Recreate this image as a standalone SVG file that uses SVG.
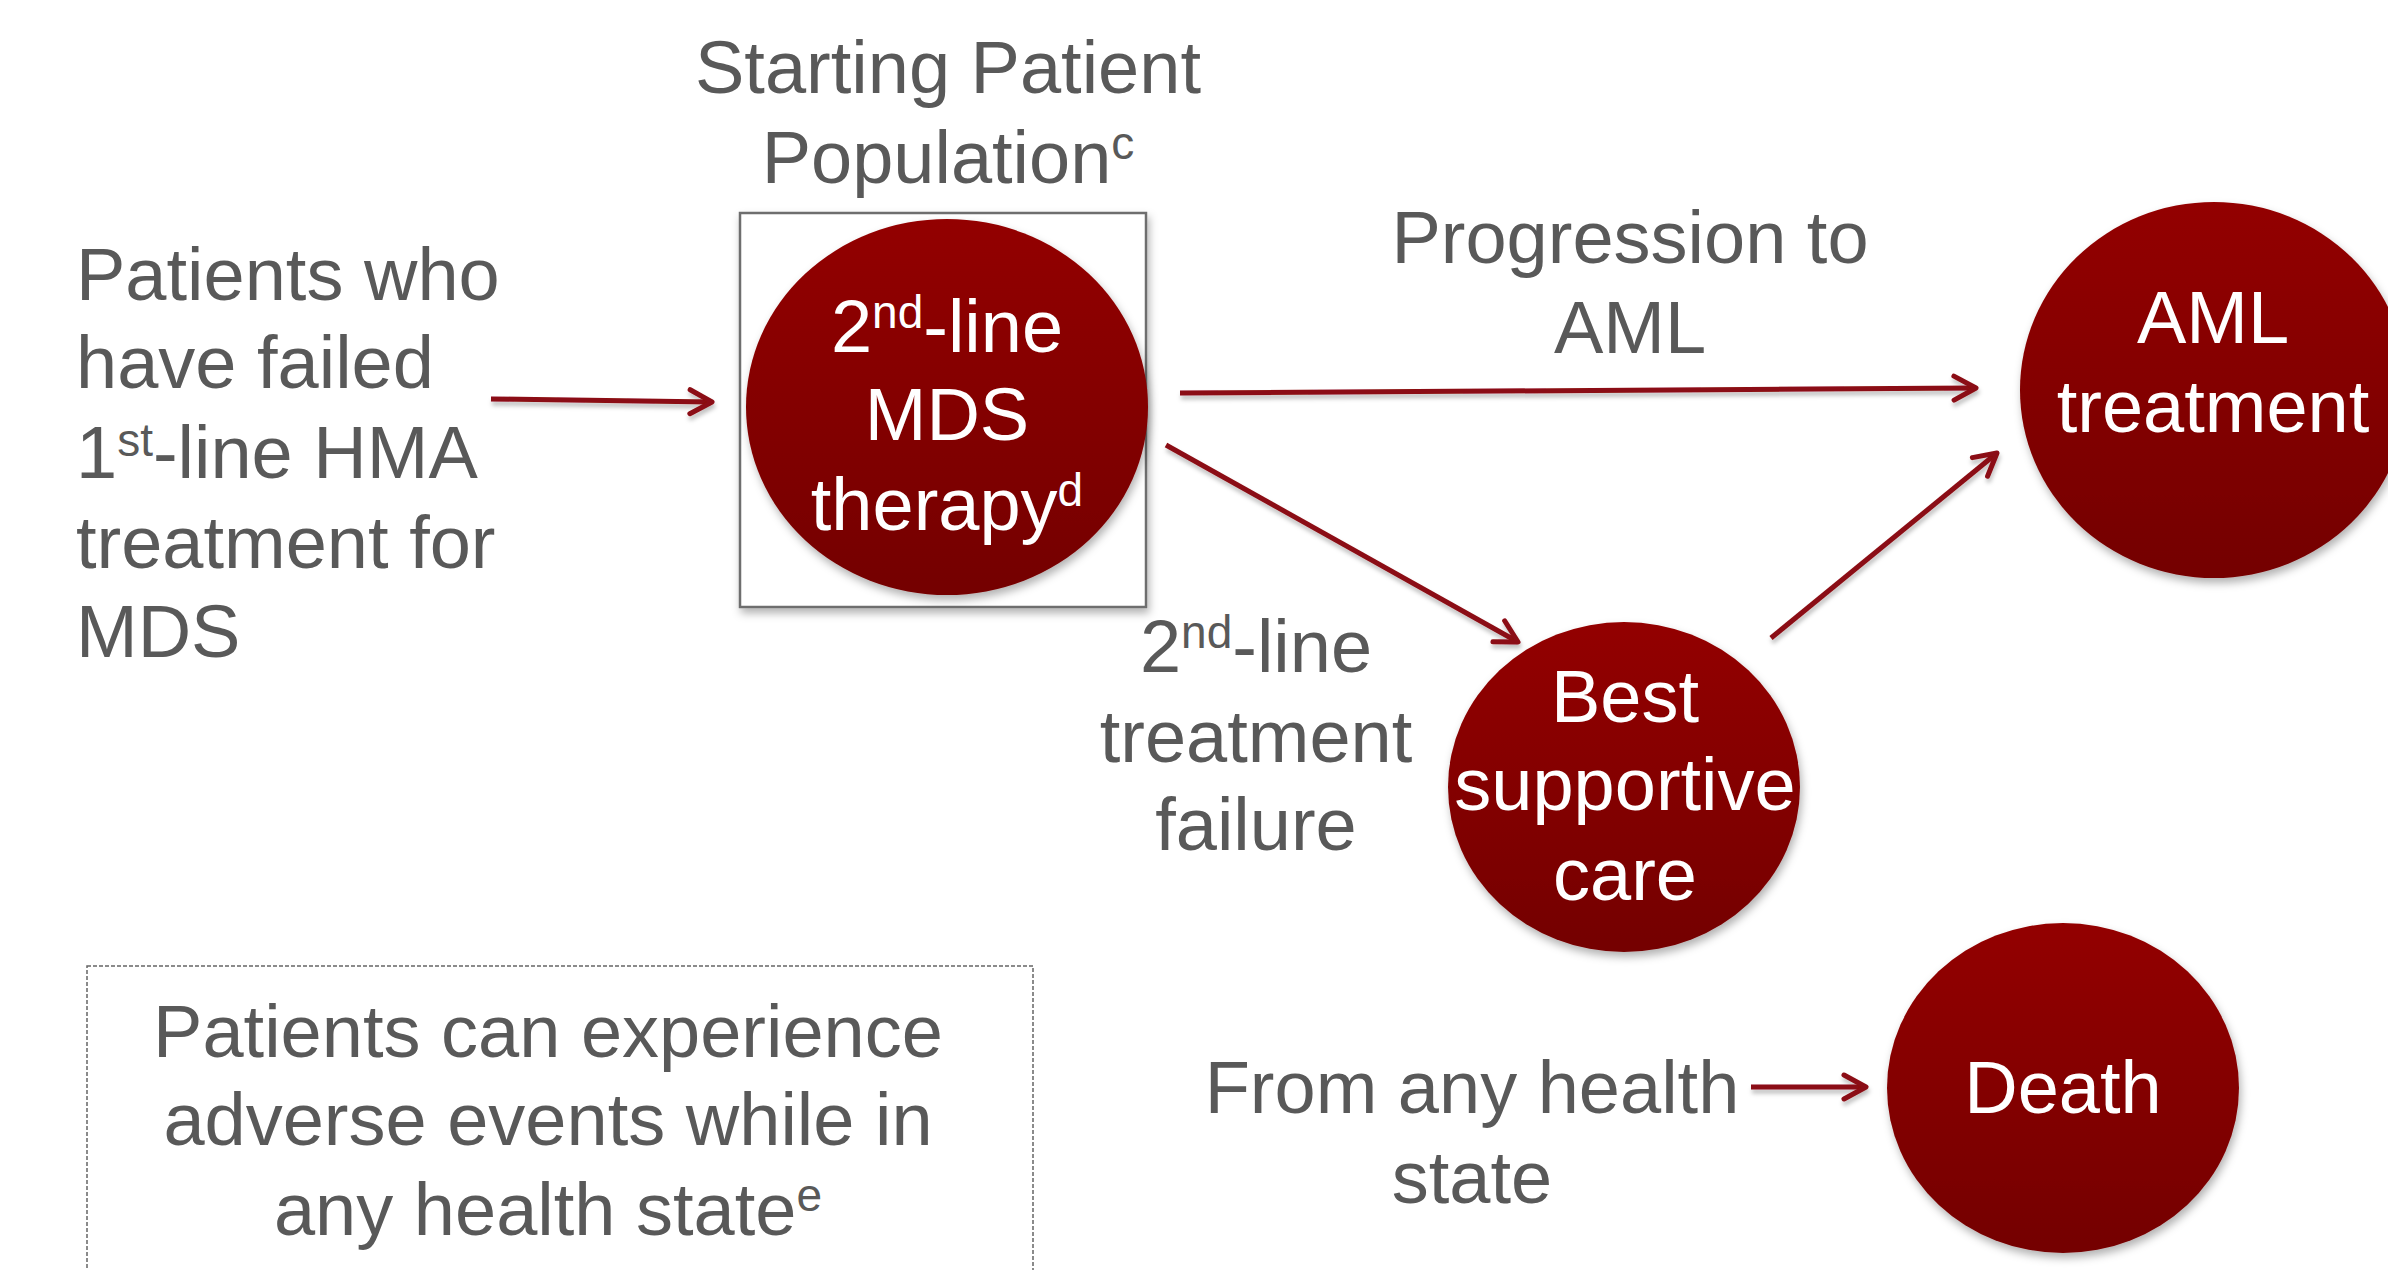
<svg xmlns="http://www.w3.org/2000/svg" width="2388" height="1270" viewBox="0 0 2388 1270">
<defs>
<linearGradient id="redGrad" x1="0" y1="0" x2="0" y2="1">
<stop offset="0" stop-color="#930000"/>
<stop offset="1" stop-color="#740000"/>
</linearGradient>
<filter id="shadow" x="-20%" y="-20%" width="140%" height="150%">
<feDropShadow dx="2" dy="5" stdDeviation="4" flood-color="#000" flood-opacity="0.3"/>
</filter>
<filter id="lshadow" filterUnits="userSpaceOnUse" x="0" y="0" width="2388" height="1270">
<feDropShadow dx="1" dy="4" stdDeviation="2" flood-color="#000" flood-opacity="0.25"/>
</filter>
<marker id="arrow" markerUnits="userSpaceOnUse" markerWidth="40" markerHeight="40" viewBox="-30 -20 40 40" refX="0" refY="0" orient="auto" overflow="visible">
<path d="M-22,-12 L0,0 L-22,12" fill="none" stroke="#8b0a12" stroke-width="5" stroke-linecap="round" stroke-linejoin="round"/>
</marker>
</defs>
<style>
.lbl{font-family:"Liberation Sans",Arial,sans-serif;font-size:74px;fill:#595959}
.wt{font-family:"Liberation Sans",Arial,sans-serif;font-size:74px;fill:#ffffff}
.sup{font-size:46px}
.circ{fill:url(#redGrad);filter:url(#shadow)}
.conn{stroke:#8b0a12;stroke-width:5;fill:none;marker-end:url(#arrow)}
</style>
<rect width="2388" height="1270" fill="#ffffff"/>

<g id="start-label">
<text class="lbl" x="948" y="93" text-anchor="middle">Starting Patient</text>
<text class="lbl" x="948" y="183" text-anchor="middle">Population<tspan class="sup" dy="-24">c</tspan></text>
</g>

<g id="source-text">
<text class="lbl" x="76" y="300">Patients who</text>
<text class="lbl" x="76" y="388">have failed</text>
<text class="lbl" x="76" y="478">1<tspan class="sup" dy="-22">st</tspan><tspan dy="22">-line HMA</tspan></text>
<text class="lbl" x="76" y="568">treatment for</text>
<text class="lbl" x="76" y="657">MDS</text>
</g>

<g id="node-mds">
<rect x="740" y="213" width="406" height="394" fill="#ffffff" stroke="#6e6e6e" stroke-width="2.5" filter="url(#shadow)"/>
<ellipse class="circ" cx="947" cy="407" rx="201" ry="188"/>
<text class="wt" x="947" y="352" text-anchor="middle">2<tspan class="sup" dy="-24">nd</tspan><tspan dy="24">-line</tspan></text>
<text class="wt" x="947" y="440" text-anchor="middle">MDS</text>
<text class="wt" x="947" y="530" text-anchor="middle">therapy<tspan class="sup" dy="-24">d</tspan></text>
</g>

<g id="node-aml">
<ellipse class="circ" cx="2214" cy="390" rx="194" ry="188"/>
<text class="wt" x="2213" y="343" text-anchor="middle">AML</text>
<text class="wt" x="2213" y="432" text-anchor="middle">treatment</text>
</g>

<g id="node-bsc">
<ellipse class="circ" cx="1624" cy="787" rx="176" ry="165"/>
<text class="wt" x="1625" y="722" text-anchor="middle">Best</text>
<text class="wt" x="1625" y="810" text-anchor="middle">supportive</text>
<text class="wt" x="1625" y="900" text-anchor="middle">care</text>
</g>

<g id="node-death">
<ellipse class="circ" cx="2063" cy="1088" rx="176" ry="165"/>
<text class="wt" x="2063" y="1113" text-anchor="middle">Death</text>
</g>

<g id="label-progression">
<text class="lbl" x="1630" y="263" text-anchor="middle">Progression to</text>
<text class="lbl" x="1630" y="353" text-anchor="middle">AML</text>
</g>

<g id="label-failure">
<text class="lbl" x="1256" y="672" text-anchor="middle">2<tspan class="sup" dy="-24">nd</tspan><tspan dy="24">-line</tspan></text>
<text class="lbl" x="1256" y="762" text-anchor="middle">treatment</text>
<text class="lbl" x="1256" y="850" text-anchor="middle">failure</text>
</g>

<g id="label-any">
<text class="lbl" x="1472" y="1113" text-anchor="middle">From any health</text>
<text class="lbl" x="1472" y="1203" text-anchor="middle">state</text>
</g>

<g id="note-ae">
<rect x="87" y="966" width="946" height="330" fill="none" stroke="#666666" stroke-width="1.5" stroke-dasharray="4 2"/>
<text class="lbl" x="548" y="1057" text-anchor="middle">Patients can experience</text>
<text class="lbl" x="548" y="1145" text-anchor="middle">adverse events while in</text>
<text class="lbl" x="548" y="1235" text-anchor="middle">any health state<tspan class="sup" dy="-24">e</tspan></text>
</g>

<g id="connectors" filter="url(#lshadow)">
<line class="conn" x1="491" y1="399" x2="712" y2="402"/>
<line class="conn" x1="1180" y1="393" x2="1976" y2="388"/>
<line class="conn" x1="1166" y1="445" x2="1518" y2="642"/>
<line class="conn" x1="1771" y1="638" x2="1997" y2="453"/>
<line class="conn" x1="1751" y1="1087" x2="1866" y2="1087"/>
</g>
</svg>
